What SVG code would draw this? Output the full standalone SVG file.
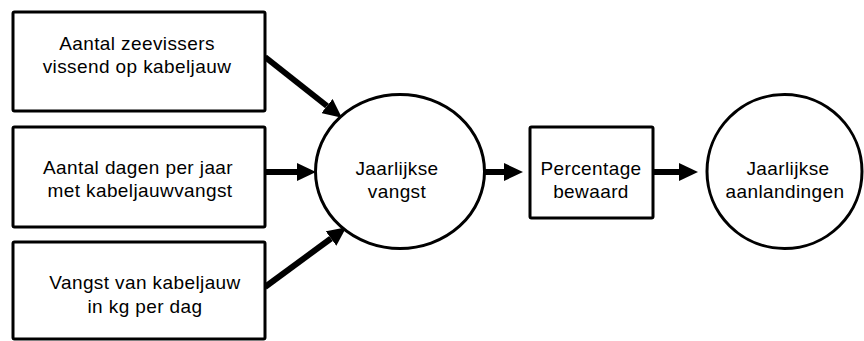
<svg xmlns="http://www.w3.org/2000/svg" width="864" height="341" viewBox="0 0 864 341">
  <style>
    .box { fill: #fff; stroke: #000; stroke-width: 3; }
    .node { fill: #fff; stroke: #000; stroke-width: 3; }
    .lbl { font-family: "Liberation Sans", Arial, sans-serif; font-size: 19px; letter-spacing: 0.4px; fill: #000; text-anchor: middle; }
    .conn { stroke: #000; stroke-width: 6; fill: none; marker-end: url(#head); }
  </style>
  <defs>
    <marker id="head" markerUnits="userSpaceOnUse" markerWidth="19" markerHeight="18" refX="0" refY="9" orient="auto" viewBox="0 0 19 18">
      <path d="M0,0 L19,9 L0,18 z" fill="#000"/>
    </marker>
  </defs>
  <rect width="864" height="341" fill="#fff"/>

  <g id="connectors">
    <line class="conn" x1="265" y1="57" x2="327" y2="106"/>
    <line class="conn" x1="265" y1="172" x2="297" y2="172"/>
    <line class="conn" x1="265" y1="287" x2="331" y2="238.5"/>
    <line class="conn" x1="485" y1="172" x2="504" y2="172"/>
    <line class="conn" x1="653" y1="172" x2="679" y2="172"/>
  </g>

  <g id="box-zeevissers">
    <rect class="box" x="13" y="12" width="252" height="99" rx="1.5"/>
    <text class="lbl" x="137" y="50">Aantal zeevissers</text>
    <text class="lbl" x="137" y="73">vissend op kabeljauw</text>
  </g>
  <g id="box-dagen">
    <rect class="box" x="13" y="127" width="252" height="100" rx="1.5"/>
    <text class="lbl" x="138" y="174">Aantal dagen per jaar</text>
    <text class="lbl" x="140" y="197">met kabeljauwvangst</text>
  </g>
  <g id="box-vangst-kg">
    <rect class="box" x="13" y="242" width="252" height="97" rx="1.5"/>
    <text class="lbl" x="145" y="289">Vangst van kabeljauw</text>
    <text class="lbl" x="145" y="313">in kg per dag</text>
  </g>
  <g id="node-jaarlijkse-vangst">
    <ellipse class="node" cx="400" cy="171.5" rx="84.5" ry="77"/>
    <text class="lbl" x="397" y="175">Jaarlijkse</text>
    <text class="lbl" x="397" y="198">vangst</text>
  </g>
  <g id="box-percentage">
    <rect class="box" x="530" y="127" width="123" height="91" rx="1.5"/>
    <text class="lbl" x="591" y="175">Percentage</text>
    <text class="lbl" x="591" y="198">bewaard</text>
  </g>
  <g id="node-aanlandingen">
    <ellipse class="node" cx="784.5" cy="171.5" rx="77.5" ry="77"/>
    <text class="lbl" x="788" y="175">Jaarlijkse</text>
    <text class="lbl" x="785" y="198">aanlandingen</text>
  </g>
</svg>
